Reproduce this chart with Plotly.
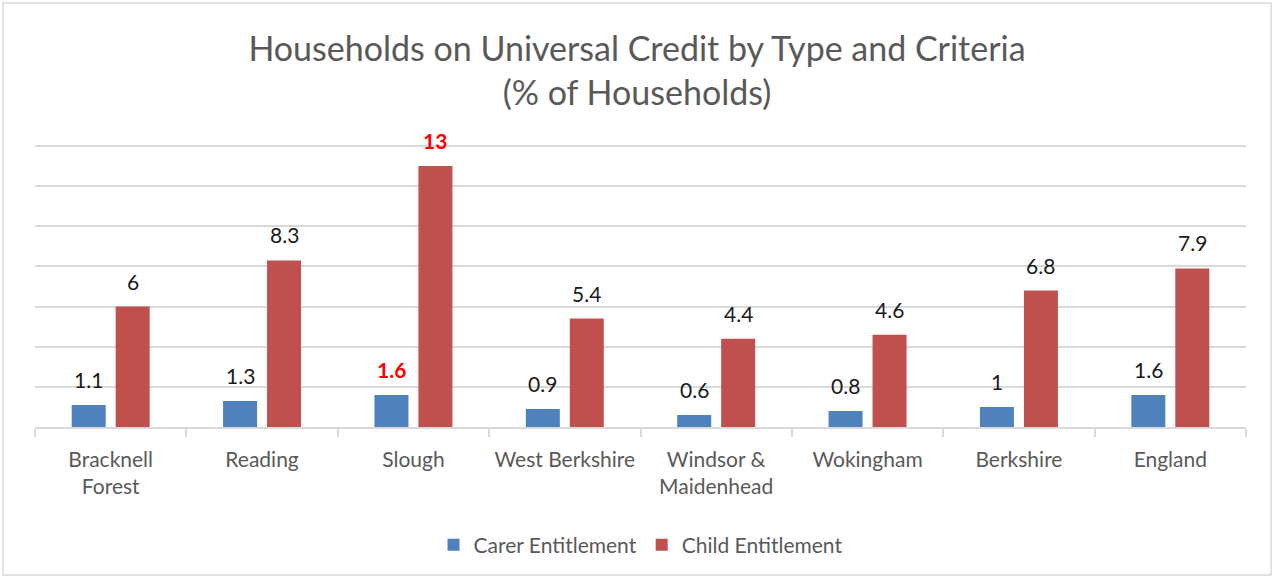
import plotly.graph_objects as go

categories = ["Bracknell<br>Forest", "Reading", "Slough", "West Berkshire",
              "Windsor &<br>Maidenhead", "Wokingham", "Berkshire", "England"]
carer = [1.1, 1.3, 1.6, 0.9, 0.6, 0.8, 1, 1.6]
child = [6, 8.3, 13, 5.4, 4.4, 4.6, 6.8, 7.9]
highlight = "Slough"

BLUE = "#4F81BD"
RED = "#C0504D"
FONT = "Lato, Carlito, Calibri, sans-serif"

W, H = 1274, 578
L, R, T, B = 35, 28, 140, 151

fig = go.Figure()
fig.add_trace(go.Bar(name="Carer Entitlement", x=categories, y=carer,
                     marker=dict(color=BLUE, line=dict(width=0))))
fig.add_trace(go.Bar(name="Child Entitlement", x=categories, y=child,
                     marker=dict(color=RED, line=dict(width=0))))

slot = (W - L - R) / len(categories) * 0.581 / 2
for series, shift in ((carer, -slot / 2), (child, slot / 2)):
    for cat, v in zip(categories, series):
        hl = cat == highlight
        fig.add_annotation(
            x=cat, y=v, xref="x", yref="y", xshift=shift, yshift=11,
            yanchor="bottom", showarrow=False,
            text=f"<b>{v:g}</b>" if hl else f"{v:g}",
            font=dict(family=FONT, size=21, color="#FF0000" if hl else "#1A1A1A"),
        )

pw = W - L - R
ph = H - T - B
fig.add_shape(type="rect", xref="paper", yref="paper",
              x0=(3 - L) / pw, x1=(W - 3 - L) / pw,
              y0=(H - B - (H - 3)) / ph, y1=(H - B - 3) / ph,
              line=dict(color="#D9D9D9", width=1.5), fillcolor="rgba(0,0,0,0)",
              layer="below")

fig.update_layout(
    width=W, height=H,
    margin=dict(l=L, r=R, t=T, b=B),
    paper_bgcolor="white", plot_bgcolor="white",
    barmode="group", bargap=0.419, bargroupgap=0.227,
    title=dict(text="Households on Universal Credit by Type and Criteria<br>(% of Households)",
               x=0.5, xanchor="center", y=1 - 61 / H, yanchor="middle", yref="container",
               font=dict(family=FONT, size=34, color="#595959")),
    font=dict(family=FONT, color="#595959"),
    showlegend=True,
    legend=dict(orientation="h", x=0.5, xanchor="center", y=(H - B - 545) / ph,
                yanchor="middle", font=dict(family=FONT, size=21, color="#595959"),
                traceorder="normal", itemwidth=30),
    xaxis=dict(showline=True, linecolor="#D9D9D9", linewidth=1.5,
               ticks="outside", tickson="boundaries", ticklen=8, tickcolor="#D9D9D9",
               tickwidth=1.5, ticklabelstandoff=13,
               tickfont=dict(family=FONT, size=21, color="#595959")),
    yaxis=dict(range=[0, 14.3], dtick=2, showticklabels=False, showgrid=True,
               gridcolor="#D9D9D9", gridwidth=1.5, zeroline=False, showline=False),
)

fig.write_html("out.html", config={"displayModeBar": False},
               post_script="document.body.style.margin='0';document.body.style.padding='0';")
